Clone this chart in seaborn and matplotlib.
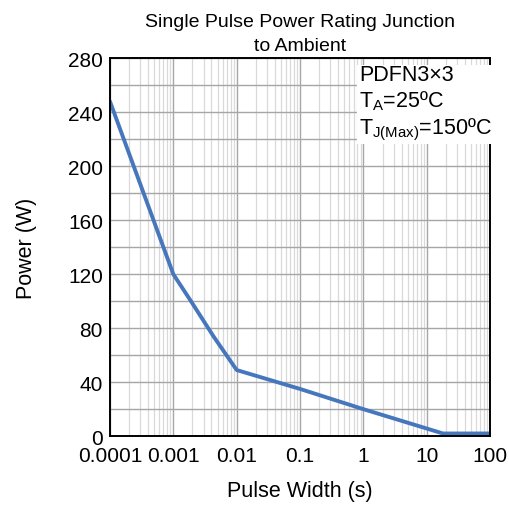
import numpy as np
import matplotlib
matplotlib.use("Agg")
import matplotlib.pyplot as plt
import seaborn as sns
import pandas as pd
from matplotlib.ticker import FixedLocator, LogLocator, NullFormatter

# data
pulse_width = [0.0001, 0.001, 0.0019, 0.0043, 0.01, 0.1, 1, 18, 100]
power = [248, 120, 100, 74, 49, 35, 20, 2, 2]
x_ticks = [0.0001, 0.001, 0.01, 0.1, 1, 10, 100]
x_labels = ["0.0001", "0.001", "0.01", "0.1", "1", "10", "100"]
y_ticks = [0, 40, 80, 120, 160, 200, 240, 280]

df = pd.DataFrame({"Pulse Width": pulse_width, "Power": power})

sns.set_style("white")
plt.rcParams["font.family"] = ["Liberation Sans", "DejaVu Sans"]
plt.rcParams["text.color"] = "black"
plt.rcParams["axes.labelcolor"] = "black"

fig = plt.figure(figsize=(5.09, 5.06), dpi=100)
ax = fig.add_axes([0.216, 0.136, 0.747, 0.747])

sns.lineplot(data=df, x="Pulse Width", y="Power", ax=ax, color="#4677bd", linewidth=2.8)

ax.set_xscale("log")
ax.set_xlim(0.0001, 100)
ax.set_ylim(0, 280)

ax.xaxis.set_major_locator(FixedLocator(x_ticks))
ax.set_xticklabels(x_labels)
ax.xaxis.set_minor_locator(LogLocator(base=10, subs=np.arange(2, 10), numticks=30))
ax.xaxis.set_minor_formatter(NullFormatter())
ax.set_yticks(y_ticks)
ax.yaxis.set_minor_locator(FixedLocator(np.arange(20, 280, 40)))

ax.grid(which="major", axis="x", color="#a6a6a6", linewidth=1.0)
ax.grid(which="minor", axis="x", color="#d9d9d9", linewidth=0.9)
ax.grid(which="both", axis="y", color="#a6a6a6", linewidth=1.0)
ax.set_axisbelow(True)

ax.tick_params(which="both", length=0, labelsize=15, colors="black", pad=5)
ax.tick_params(axis="x", pad=7)
for s in ax.spines.values():
    s.set_color("black")
    s.set_linewidth(1.4)

ax.set_xlabel("Pulse Width (s)", fontsize=15.5, labelpad=11, color="black")
ax.set_ylabel("Power (W)", fontsize=15.5, labelpad=22, color="black")
ax.set_title("Single Pulse Power Rating Junction\nto Ambient", fontsize=14, pad=6,
             linespacing=1.55, color="black")

ax.text(0.655, 0.985,
        "PDFN3\u00d73\n$\\mathregular{T_A}$=25\u00baC\n$\\mathregular{T_{J(Max)}}$=150\u00baC",
        transform=ax.transAxes, ha="left", va="top", fontsize=15.5, linespacing=1.2,
        color="black", bbox=dict(facecolor="white", edgecolor="none", pad=1.5), zorder=5)

fig.savefig("out.png", dpi=100)
